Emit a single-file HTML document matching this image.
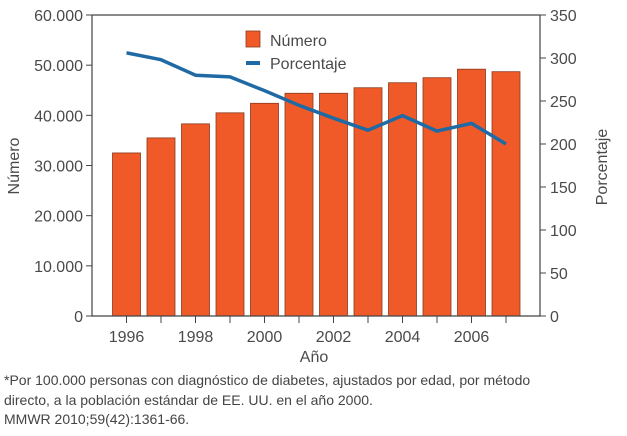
<!DOCTYPE html>
<html><head><meta charset="utf-8"><style>
body{margin:0;background:#fff;width:627px;height:436px;overflow:hidden;font-family:"Liberation Sans",sans-serif}
svg text{fill:#4a4a4a;font-family:"Liberation Sans",sans-serif}
.note{position:absolute;left:4px;font-size:14px;color:#444;line-height:19.5px}
</style></head><body>
<svg width="627" height="436" id="c" style="position:absolute;left:0;top:0"></svg>
<div class="note" style="top:371px">*Por 100.000 personas con diagnóstico de diabetes, ajustados por edad, por método<br>directo, a la población estándar de EE. UU. en el año 2000.<br>MMWR 2010;59(42):1361-66.</div>
<script>
const years=[1996,1997,1998,1999,2000,2001,2002,2003,2004,2005,2006,2007];
const numero=[32500,35500,38300,40500,42400,44400,44400,45500,46500,47500,49200,48700];
const porcentaje=[306,298,280,278,262,245,230,216,233,215,224,200];
const leftTicks=[0,10000,20000,30000,40000,50000,60000];
const leftLabels=["0","10.000","20.000","30.000","40.000","50.000","60.000"];
const rightTicks=[0,50,100,150,200,250,300,350];
const xLabels=[1996,1998,2000,2002,2004,2006];
const svg=document.getElementById('c');const NS='http://www.w3.org/2000/svg';
const L=92,R=540,T=15,B=316;
const x=y=>126.5+(y-1996)*34.5;
const yl=v=>B-(v/60000)*(B-T);
const yr=v=>B-(v/350)*(B-T);
function el(t,a,txt){const e=document.createElementNS(NS,t);for(const k in a)e.setAttribute(k,a[k]);if(txt!=null)e.textContent=txt;svg.appendChild(e);return e;}
numero.forEach((v,i)=>{const b=el('rect',{x:x(years[i])-14,y:yl(v),width:28,height:B-yl(v),fill:'#f05a28',stroke:'#8a3a1e','stroke-width':0.8});

});
const pl=el('polyline',{points:porcentaje.map((v,i)=>x(years[i])+','+yr(v)).join(' '),fill:'none',stroke:'#1f6aa5','stroke-width':3.5,'stroke-linejoin':'round'});


const ax=el('path',{d:`M${L},${T}H${R}M${L},${T}V${B}H${R}V${T}`,stroke:'#444','stroke-width':1.2,fill:'none'});


leftTicks.forEach((v,i)=>{el('line',{x1:L-6,x2:L,y1:yl(v),y2:yl(v),stroke:'#444'});
const t=el('text',{x:L-9,y:yl(v)+6,'text-anchor':'end','font-size':16},leftLabels[i]);

});
rightTicks.forEach(v=>{el('line',{x1:R,x2:R+6,y1:yr(v),y2:yr(v),stroke:'#444'});
const t=el('text',{x:R+10,y:yr(v)+6,'font-size':16},String(v));

});
years.forEach(y=>el('line',{x1:x(y),x2:x(y),y1:B,y2:B+7,stroke:'#444'}));
xLabels.forEach(y=>{const t=el('text',{x:x(y),y:B+26,'text-anchor':'middle','font-size':16},String(y));

});
let t=el('text',{x:314,y:362,'text-anchor':'middle','font-size':16},'Año');


t=el('text',{x:0,y:0,'text-anchor':'middle','font-size':16,transform:'translate(19,166) rotate(-90)'},'Número');


t=el('text',{x:0,y:0,'text-anchor':'middle','font-size':16,transform:'translate(607,167) rotate(-90)'},'Porcentaje');


const lg1=el('rect',{x:246,y:31,width:14,height:16,fill:'#f05a28',stroke:'#8a3a1e','stroke-width':0.8});


t=el('text',{x:270,y:46,'font-size':16},'Número');


const lg2=el('line',{x1:246,x2:260,y1:63,y2:63,stroke:'#1f6aa5','stroke-width':4});


t=el('text',{x:270,y:69,'font-size':16},'Porcentaje');


</script>
</body></html>
